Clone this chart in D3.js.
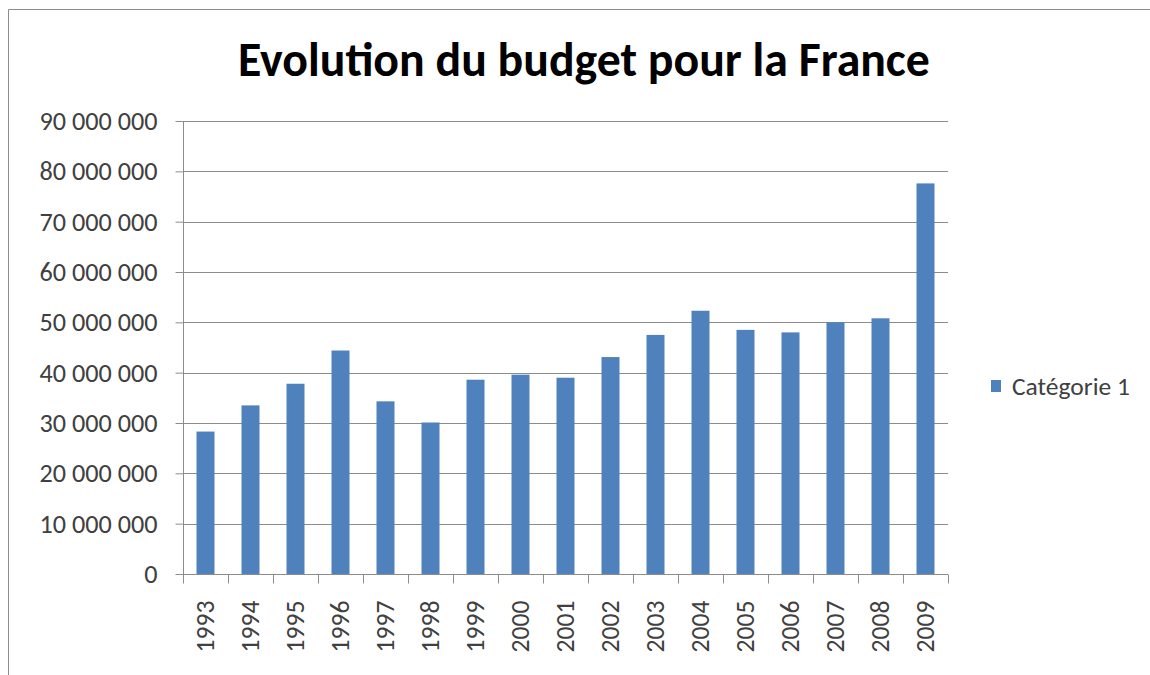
<!DOCTYPE html>
<html>
<head>
<meta charset="utf-8" />
<title>Evolution du budget pour la France</title>
<script src="https://cdn.jsdelivr.net/npm/d3@7"></script>
<style>
  body { margin: 0; background: #fff; }
  svg { display: block; font-family: Carlito, Lato, "Open Sans", sans-serif; }
  svg text { font-family: Carlito, Lato, "Open Sans", sans-serif; }
</style>
</head>
<body>
<svg width="1150" height="675"></svg>
<script>
  // data
  let years = ["1993","1994","1995","1996","1997","1998","1999","2000","2001",
               "2002","2003","2004","2005","2006","2007","2008","2009"];
  let budget = [28300000, 33500000, 37800000, 44400000, 34300000, 30100000,
                38600000, 39600000, 39000000, 43100000, 47500000, 52300000,
                48500000, 48000000, 50000000, 50800000, 77600000];
  let yTicks = [0, 10000000, 20000000, 30000000, 40000000, 50000000,
                60000000, 70000000, 80000000, 90000000];
  let seriesName = "Catégorie 1";
  let title = "Evolution du budget pour la France";

  let svg = d3.select("svg");
  let margin = {top: 121, left: 183, right: 202, bottom: 101};
  let width = +svg.attr("width"), height = +svg.attr("height");
  let innerWidth = width - margin.left - margin.right;
  let innerHeight = height - margin.top - margin.bottom;

  let fr = d3.formatLocale({decimal: ",", thousands: "\u00a0", grouping: [3], currency: ["", " €"]});
  let fmt = fr.format(",d");

  // font size that makes a string reach a given width
  const fitSize = (str, target, weight) => {
    let tmp = svg.append("text").style("font-size", "20px").attr("font-weight", weight || "normal").text(str);
    let w = tmp.node().getComputedTextLength();
    tmp.remove();
    return 20 * target / w;
  };
  let yFont = fitSize("90\u00a0000\u00a0000", 118);
  let xFont = fitSize("1993", 52);
  let legFont = fitSize(seriesName, 118);
  let titleFont = fitSize(title, 692, "bold");

  // chart frame (only top and left edges show in the picture)
  svg.append("path")
    .attr("d", `M8.5,${height}V9.5H${width}`)
    .attr("fill", "none").attr("stroke", "#8c8c8c");

  let xScale = d3.scaleBand().domain(years).range([0, innerWidth]).paddingInner(0.6).paddingOuter(0.3);
  let xTick = d3.scaleBand().domain(years).range([0, innerWidth]);
  let yScale = d3.scaleLinear().domain([0, 90000000]).range([innerHeight, 0]);

  const g = svg.append("g").attr("transform", `translate(${margin.left},${margin.top})`);

  // gridlines
  g.append("g").selectAll("line").data(yTicks.slice(1)).enter().append("line")
    .attr("x1", 0).attr("x2", innerWidth)
    .attr("y1", d => Math.round(yScale(d)) + 0.5).attr("y2", d => Math.round(yScale(d)) + 0.5)
    .attr("stroke", "#8c8c8c");

  // y axis
  const yAxisG = g.append("g").attr("transform", "translate(0.5,0)")
    .call(d3.axisLeft(yScale).tickValues(yTicks).tickFormat(fmt).tickSize(8).tickPadding(18));
  yAxisG.attr("font-family", null);
  yAxisG.select(".domain").attr("stroke", "#8c8c8c").attr("d", `M0,0V${innerHeight}`);
  yAxisG.selectAll(".tick line").attr("stroke", "#8c8c8c");
  yAxisG.selectAll(".tick text").attr("fill", "#404040").style("font-size", yFont + "px");

  // bars
  g.selectAll("rect.bar").data(budget).enter().append("rect")
    .attr("class", "bar")
    .attr("x", (d, i) => xScale(years[i]))
    .attr("width", xScale.bandwidth())
    .attr("y", d => yScale(d))
    .attr("height", d => innerHeight - yScale(d))
    .attr("fill", "#4f81bd");

  // x axis (ticks at category boundaries)
  const xAxisG = g.append("g").attr("transform", `translate(0,${innerHeight + 0.5})`);
  xAxisG.append("line").attr("x1", 0).attr("x2", innerWidth).attr("stroke", "#8c8c8c");
  xAxisG.selectAll("line.tk").data(years.concat(["end"])).enter().append("line")
    .attr("class", "tk")
    .attr("x1", (d, i) => Math.round(i * xTick.step()) + 0.5)
    .attr("x2", (d, i) => Math.round(i * xTick.step()) + 0.5)
    .attr("y1", 0).attr("y2", 9)
    .attr("stroke", "#8c8c8c");
  xAxisG.selectAll("text").data(years).enter().append("text")
    .attr("transform", d => `translate(${xTick(d) + xTick.bandwidth() / 2},26) rotate(-90)`)
    .attr("dy", "0.35em")
    .attr("text-anchor", "end")
    .attr("fill", "#404040")
    .style("font-size", xFont + "px")
    .text(d => d);

  // title
  svg.append("text")
    .attr("x", 584).attr("y", 76)
    .attr("text-anchor", "middle")
    .attr("font-weight", "bold")
    .attr("fill", "#000")
    .style("font-size", titleFont + "px")
    .text(title);

  // legend
  const lg = svg.append("g").attr("transform", "translate(991,380)");
  lg.append("rect").attr("width", 10).attr("height", 12).attr("fill", "#4f81bd");
  lg.append("text").attr("x", 21).attr("y", 15)
    .attr("fill", "#404040").style("font-size", legFont + "px")
    .text(seriesName);
</script>
</body>
</html>
